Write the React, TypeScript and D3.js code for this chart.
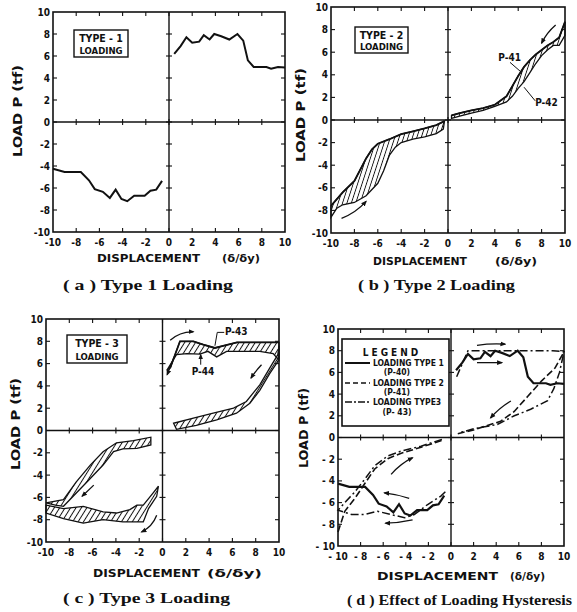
import React from "react";
import * as d3 from "d3";

type Pt = [number, number];

// axis ticks (same on both axes, all panels)
const ticks = [-10, -8, -6, -4, -2, 0, 2, 4, 6, 8, 10];

// (a) Type 1 loading, P-40 (also used in d)
const type1Pos: Pt[] = [[0.45, 6.2], [1.0, 6.9], [1.5, 7.7], [2.0, 7.2], [2.6, 7.3], [3.0, 7.9], [3.5, 7.5], [3.9, 8.0], [4.5, 7.8], [5.2, 7.5], [5.9, 8.0], [6.4, 7.4], [6.8, 5.6], [7.3, 5.0], [8.4, 5.0], [8.8, 4.85], [9.4, 5.0], [10, 4.95]];
const type1Neg: Pt[] = [[-10, -4.25], [-9, -4.55], [-7.6, -4.55], [-6.9, -5.3], [-6.4, -6.1], [-5.7, -6.35], [-5.1, -6.9], [-4.6, -6.15], [-4.1, -7.0], [-3.6, -7.2], [-3.0, -6.7], [-2.1, -6.7], [-1.6, -6.25], [-1.1, -6.15], [-0.6, -5.35]];

// (b) Type 2 loading, P-41 (upper edge) / P-42 (lower edge)
const p41Pos: Pt[] = [[0.3, 0.4], [1, 0.6], [2, 0.85], [3, 1.05], [4, 1.35], [5, 2.1], [5.5, 3.0], [6, 3.9], [6.5, 4.7], [7, 5.3], [7.5, 5.8], [8, 6.2], [8.5, 6.6], [9, 6.9], [9.5, 7.3], [10, 8.7]];
const p42Pos: Pt[] = [[0.3, 0.15], [1, 0.35], [2, 0.6], [3, 0.85], [4, 1.2], [5, 1.6], [5.5, 2.1], [6, 2.8], [6.5, 3.4], [7, 4.2], [7.5, 5.0], [8, 5.7], [8.5, 6.2], [9, 6.6], [9.5, 6.6], [10, 7.5]];
const p41Neg: Pt[] = [[-10, -7.6], [-9, -6.4], [-8, -5.4], [-7, -3.4], [-6.5, -2.6], [-6, -2.1], [-5, -1.7], [-4, -1.25], [-3, -1.0], [-2, -0.75], [-1, -0.45], [-0.3, -0.1]];
const p42Neg: Pt[] = [[-10, -8.6], [-9.5, -7.8], [-9, -7.5], [-8, -7.3], [-7, -6.7], [-6, -5.6], [-5.5, -4.5], [-5, -3.1], [-4.5, -2.4], [-4, -2.0], [-3, -1.7], [-2, -1.5], [-1, -1.2], [-0.4, -0.8]];

// (c) Type 3 loading, P-43 / P-44
const p43Top: Pt[] = [[0.66, 5.6], [1.5, 8.0], [2.65, 8.0], [3.5, 7.7], [4.5, 7.4], [5.2, 7.6], [6.4, 7.9], [10, 7.9]];
const p44Top: Pt[] = [[0.37, 5.4], [1.2, 6.8], [2.1, 6.9], [3.2, 6.85], [3.9, 7.1], [4.65, 6.6], [5.5, 7.1], [8.35, 7.1], [9.5, 6.9], [10, 6.3]];
const p43Rel: Pt[] = [[0.95, 0.65], [2.65, 1.1], [4.35, 1.55], [6.1, 2.0], [7.2, 2.6], [8.35, 4.1], [9.2, 5.6], [9.9, 6.8], [10, 7.6]];
const p44Rel: Pt[] = [[1.2, 0.1], [2.9, 0.45], [4.65, 0.95], [6.35, 1.55], [7.5, 2.45], [8.35, 3.6], [9.2, 5.1], [9.9, 6.2], [10, 6.5]];
const p43Unl: Pt[] = [[-10, -6.5], [-8.5, -6.2], [-7.4, -4.6], [-6.2, -3.1], [-5.1, -1.9], [-3.95, -1.1], [-2.5, -0.9], [-1.0, -0.6]];
const p44Unl: Pt[] = [[-9.2, -6.7], [-8.5, -6.8], [-7.4, -5.6], [-6.2, -4.3], [-5.1, -3.1], [-4.2, -1.9], [-3.4, -1.65], [-2.2, -1.6], [-1.0, -1.3]];
const p43Low: Pt[] = [[-10, -6.7], [-8.5, -7.0], [-6.8, -6.8], [-5.1, -7.3], [-3.95, -7.4], [-2.8, -7.1], [-2.2, -6.7], [-1.65, -6.7], [-0.8, -5.6], [-0.35, -5.0]];
const p44Low: Pt[] = [[-10, -7.4], [-8.5, -7.9], [-6.8, -8.3], [-5.1, -8.0], [-3.4, -8.2], [-1.65, -8.2], [-1.2, -7.0], [-0.5, -5.9], [-0.35, -5.0]];

// (d) comparison curves
const type2Pos: Pt[] = [[0.6, 0.35], [2, 0.7], [4.4, 1.5], [5.6, 2.4], [6.8, 3.8], [8, 5.2], [9.2, 6.4], [10, 7.9]];
const type2Neg: Pt[] = [[-10, -8.7], [-9.4, -6.8], [-8.5, -5.6], [-7.6, -4.2], [-6.75, -2.9], [-5.6, -1.95], [-4.4, -1.45], [-2.65, -0.9], [-0.6, -0.2]];
const type3Pos: Pt[] = [[0.5, 5.6], [1.5, 8.0], [3, 8.0], [5, 8.0], [7, 8.0], [9, 8.0], [10, 7.9], [9.6, 6.0], [9.1, 4.5], [8.55, 3.4], [7.05, 2.6], [5.6, 2.0], [4.1, 1.2], [2, 0.8], [0.85, 0.46]];
const type3Neg: Pt[] = [[-0.5, -5.0], [-0.9, -5.4], [-2.1, -6.2], [-3.25, -7.1], [-4.1, -7.4], [-5.3, -7.1], [-6.5, -6.8], [-7.65, -7.1], [-8.8, -7.1], [-10, -6.7], [-9.4, -6.0], [-8.5, -5.0], [-7.6, -3.8], [-6.75, -2.6], [-5.6, -1.7], [-4.4, -1.25], [-2.65, -0.8], [-0.6, -0.1]];

// direction arrows [from, to, bend]
const arrowsB: [Pt, Pt, number][] = [[[9.2, 8.4], [8.0, 6.8], 0.1], [[-9.1, -8.7], [-7.0, -7.2], 0.12]];
const arrowsC: [Pt, Pt, number][] = [[[0.66, 8.1], [2.65, 8.85], -0.2], [[8.5, 5.9], [7.6, 4.7], 0.05], [[1.0, 6.6], [0.4, 5.0], 0], [[-5.9, -4.9], [-6.9, -5.9], 0], [[-0.5, -7.6], [-1.8, -9.1], -0.2]];
const arrowsD: [Pt, Pt, number][] = [[[2.3, 8.5], [4.8, 8.6], -0.05], [[2.3, 6.9], [4.5, 6.9], 0], [[5.3, 3.36], [3.5, 1.8], 0.08], [[-5.3, -3.4], [-3.4, -1.86], -0.1], [[-3.7, -5.6], [-5.9, -5.1], 0.05], [[-3.4, -7.6], [-5.8, -7.9], -0.05]];

const tickFont = "'DejaVu Sans Condensed', 'DejaVu Sans', sans-serif";
const serif = "'Liberation Serif', 'DejaVu Serif', serif";

type Frame = { l: number; r: number; t: number; b: number };

function scales(f: Frame) {
  const x = d3.scaleLinear().domain([-10, 10]).range([f.l, f.r]);
  const y = d3.scaleLinear().domain([-10, 10]).range([f.b, f.t]);
  return { x, y };
}

function Axes({ f, minusSpace = false }: { f: Frame; minusSpace?: boolean }) {
  const { x, y } = scales(f);
  const x0 = x(0);
  const y0 = y(0);
  const inner = ticks.filter((t) => Math.abs(t) < 10);
  const fmt = (t: number) => (minusSpace && t < 0 ? `- ${-t}` : `${t}`);
  return (
    <g>
      <rect x={f.l} y={f.t} width={f.r - f.l} height={f.b - f.t} fill="none" stroke="#111" strokeWidth={1.6} />
      <line x1={x0} x2={x0} y1={f.t} y2={f.b} stroke="#111" strokeWidth={1.4} />
      <line x1={f.l} x2={f.r} y1={y0} y2={y0} stroke="#111" strokeWidth={1.4} />
      {inner.map((t) => (
        <g key={t} stroke="#111" strokeWidth={1.1}>
          <line x1={f.l} x2={f.l + 4} y1={y(t)} y2={y(t)} />
          <line x1={f.r - 4} x2={f.r} y1={y(t)} y2={y(t)} />
          <line x1={x0 - 3} x2={x0 + 3} y1={y(t)} y2={y(t)} />
          <line x1={x(t)} x2={x(t)} y1={f.t} y2={f.t + 4} />
          <line x1={x(t)} x2={x(t)} y1={f.b - 4} y2={f.b} />
          <line x1={x(t)} x2={x(t)} y1={y0 - 3} y2={y0 + 3} />
        </g>
      ))}
      {ticks.map((t) => (
        <text key={"y" + t} x={f.l - 3} y={y(t) + 3.5} textAnchor="end" fontFamily={tickFont} fontWeight="bold" fontSize={10} fill="#111">
          {fmt(t)}
        </text>
      ))}
      {ticks.map((t) => (
        <text key={"x" + t} x={x(t)} y={f.b + 14} textAnchor="middle" fontFamily={tickFont} fontWeight="bold" fontSize={10} fill="#111">
          {fmt(t)}
        </text>
      ))}
    </g>
  );
}

function Titles({ disp, dd, load, cap, capText }: { disp: number[]; dd: number[]; load: number[]; cap: number[]; capText: string }) {
  return (
    <g fill="#111">
      <text x={disp[0]} y={disp[2]} textLength={disp[1]} lengthAdjust="spacingAndGlyphs" fontFamily={tickFont} fontWeight="bold" fontSize={11}>
        DISPLACEMENT
      </text>
      <text x={dd[0]} y={disp[2]} textLength={dd[1]} lengthAdjust="spacingAndGlyphs" fontFamily={tickFont} fontWeight="bold" fontSize={10}>
        (δ/δy)
      </text>
      <text transform={`translate(${load[0]},${load[1]}) rotate(-90)`} textAnchor="middle" textLength={load[2]} lengthAdjust="spacingAndGlyphs" fontFamily={tickFont} fontWeight="bold" fontSize={12}>
        LOAD  P  (tf)
      </text>
      <text x={cap[0]} y={cap[2]} textLength={cap[1]} lengthAdjust="spacingAndGlyphs" fontFamily={serif} fontWeight="bold" fontSize={14}>
        {capText}
      </text>
    </g>
  );
}

function TypeBox({ x, y, w, h, n }: { x: number; y: number; w: number; h: number; n: number }) {
  return (
    <g fill="#111" fontFamily={tickFont} fontWeight="bold">
      <rect x={x} y={y} width={w} height={h} fill="white" stroke="#111" strokeWidth={1.4} />
      <text x={x + w / 2} y={y + 12} textAnchor="middle" fontSize={10.5}>{`TYPE - ${n}`}</text>
      <text x={x + w / 2} y={y + h - 3.5} textAnchor="middle" fontSize={9.5}>LOADING</text>
    </g>
  );
}

function bandPath(f: Frame, upper: Pt[], lower: Pt[]) {
  const { x, y } = scales(f);
  const line = d3.line<Pt>().x((d) => x(d[0])).y((d) => y(d[1]));
  return line([...upper, ...lower.slice().reverse()]) + "Z";
}

function curve(f: Frame, pts: Pt[]) {
  const { x, y } = scales(f);
  return d3.line<Pt>().x((d) => x(d[0])).y((d) => y(d[1]))(pts) || "";
}

function Arrows({ f, list }: { f: Frame; list: [Pt, Pt, number][] }) {
  const { x, y } = scales(f);
  return (
    <g>
      {list.map(([a, b, bend], i) => {
        const x1 = x(a[0]), y1 = y(a[1]), x2 = x(b[0]), y2 = y(b[1]);
        const cx = (x1 + x2) / 2 - (y2 - y1) * bend;
        const cy = (y1 + y2) / 2 + (x2 - x1) * bend;
        return <path key={i} d={`M${x1},${y1}Q${cx},${cy} ${x2},${y2}`} fill="none" stroke="#111" strokeWidth={1.3} markerEnd="url(#arr)" />;
      })}
    </g>
  );
}

const fA: Frame = { l: 53, r: 285, t: 12, b: 232 };
const fB: Frame = { l: 331, r: 565, t: 7, b: 233 };
const fC: Frame = { l: 46, r: 279, t: 319, b: 542 };
const fD: Frame = { l: 338, r: 564, t: 329, b: 546 };

export default function App() {
  const bx = scales(fB);
  const cx = scales(fC);
  const lbl = { fontFamily: tickFont, fontWeight: "bold" as const, fontSize: 10, fill: "#111" };
  return (
    <svg width={577} height={612} style={{ position: "absolute", left: 0, top: 0, background: "white" }}>
      <defs>
        <pattern id="hatchB" width={4.2} height={4.2} patternUnits="userSpaceOnUse" patternTransform="rotate(18)">
          <line x1={2.1} y1={0} x2={2.1} y2={4.2} stroke="#111" strokeWidth={0.9} />
        </pattern>
        <pattern id="hatchC" width={4.6} height={4.6} patternUnits="userSpaceOnUse" patternTransform="rotate(32)">
          <line x1={2.3} y1={0} x2={2.3} y2={4.6} stroke="#111" strokeWidth={1} />
        </pattern>
        <marker id="arr" viewBox="0 0 10 10" refX={8} refY={5} markerWidth={6} markerHeight={6} orient="auto" markerUnits="userSpaceOnUse">
          <path d="M0,1 L10,5 L0,9 z" fill="#111" />
        </marker>
      </defs>

      {/* (a) */}
      <Axes f={fA} />
      <TypeBox x={74} y={30} w={54} h={27} n={1} />
      <path d={curve(fA, type1Pos)} fill="none" stroke="#111" strokeWidth={2} />
      <path d={curve(fA, type1Neg)} fill="none" stroke="#111" strokeWidth={2} />
      <Titles disp={[97, 103, 262]} dd={[222, 38]} load={[22, 111, 92]} cap={[63, 170, 290]} capText="( a )   Type 1  Loading" />

      {/* (b) */}
      <Axes f={fB} />
      <TypeBox x={355} y={27} w={53} h={26} n={2} />
      <path d={bandPath(fB, p41Pos, p42Pos)} fill="url(#hatchB)" stroke="#111" strokeWidth={1.3} />
      <path d={bandPath(fB, p41Neg, p42Neg)} fill="url(#hatchB)" stroke="#111" strokeWidth={1.3} />
      <path d={curve(fB, p41Pos)} fill="none" stroke="#111" strokeWidth={1.8} />
      <path d={curve(fB, p41Neg)} fill="none" stroke="#111" strokeWidth={1.8} />
      <Arrows f={fB} list={arrowsB} />
      <text x={bx.x(4.3)} y={bx.y(5.25)} {...lbl}>P-41</text>
      <line x1={bx.x(5.3)} y1={bx.y(5.1)} x2={bx.x(6.3)} y2={bx.y(4.2)} stroke="#111" strokeWidth={1} />
      <text x={bx.x(7.45)} y={bx.y(1.25)} {...lbl}>P-42</text>
      <line x1={bx.x(6.5)} y1={bx.y(2.9)} x2={bx.x(7.45)} y2={bx.y(1.7)} stroke="#111" strokeWidth={1} />
      <Titles disp={[373, 94, 265]} dd={[495, 42]} load={[305, 115, 94]} cap={[358, 157, 290]} capText="( b )   Type 2  Loading" />

      {/* (c) */}
      <Axes f={fC} />
      <TypeBox x={67} y={335} w={60} h={28} n={3} />
      <path d={bandPath(fC, p43Top, p44Top)} fill="url(#hatchC)" stroke="#111" strokeWidth={1.3} />
      <path d={bandPath(fC, p43Rel, p44Rel)} fill="url(#hatchC)" stroke="#111" strokeWidth={1.3} />
      <path d={bandPath(fC, p43Unl, p44Unl)} fill="url(#hatchC)" stroke="#111" strokeWidth={1.3} />
      <path d={bandPath(fC, p43Low, p44Low)} fill="url(#hatchC)" stroke="#111" strokeWidth={1.3} />
      <path d={curve(fC, p43Top)} fill="none" stroke="#111" strokeWidth={1.8} />
      <Arrows f={fC} list={arrowsC} />
      <text x={cx.x(5.36)} y={cx.y(8.57)} {...lbl}>P-43</text>
      <path d={`M${cx.x(5.3)},${cx.y(8.8)}H${cx.x(4.7)}L${cx.x(4.5)},${cx.y(7.6)}`} fill="none" stroke="#111" strokeWidth={1} />
      <text x={cx.x(2.5)} y={cx.y(5.0)} {...lbl}>P-44</text>
      <line x1={cx.x(3.28)} y1={cx.y(5.9)} x2={cx.x(3.28)} y2={cx.y(6.8)} stroke="#111" strokeWidth={1} markerEnd="url(#arr)" />
      <Titles disp={[93, 107, 577]} dd={[207, 55]} load={[20, 424, 92]} cap={[63, 167, 603]} capText="( c )   Type 3  Loading" />

      {/* (d) */}
      <Axes f={fD} minusSpace />
      <path d={curve(fD, type2Pos)} fill="none" stroke="#111" strokeWidth={1.6} strokeDasharray="7,3" />
      <path d={curve(fD, type2Neg)} fill="none" stroke="#111" strokeWidth={1.6} strokeDasharray="7,3" />
      <path d={curve(fD, type3Pos)} fill="none" stroke="#111" strokeWidth={1.5} strokeDasharray="8,3,2,3" />
      <path d={curve(fD, type3Neg)} fill="none" stroke="#111" strokeWidth={1.5} strokeDasharray="8,3,2,3" />
      <path d={curve(fD, type1Pos)} fill="none" stroke="#111" strokeWidth={2.2} />
      <path d={curve(fD, type1Neg)} fill="none" stroke="#111" strokeWidth={2.2} />
      <Arrows f={fD} list={arrowsD} />
      <g fontFamily={tickFont} fontWeight="bold" fill="#111">
        <rect x={342} y={339} width={107} height={87} fill="white" stroke="#111" strokeWidth={1.6} />
        <text x={392} y={356} textAnchor="middle" fontSize={10} letterSpacing={3}>LEGEND</text>
        <line x1={345} x2={370} y1={363} y2={363} stroke="#111" strokeWidth={2} />
        <text x={373} y={366} fontSize={8.5}>LOADING TYPE 1</text>
        <text x={397} y={375} textAnchor="middle" fontSize={8.5}>(P-40)</text>
        <line x1={345} x2={370} y1={383} y2={383} stroke="#111" strokeWidth={1.3} strokeDasharray="5,3" />
        <text x={373} y={386} fontSize={8.5}>LOADING TYPE 2</text>
        <text x={397} y={395} textAnchor="middle" fontSize={8.5}>(P-41)</text>
        <line x1={345} x2={370} y1={402} y2={402} stroke="#111" strokeWidth={1.3} strokeDasharray="7,2,2,2" />
        <text x={373} y={405} fontSize={8.5}>LOADING TYPE3</text>
        <text x={397} y={415} textAnchor="middle" fontSize={8.5}>(P- 43)</text>
      </g>
      <Titles disp={[377, 121, 580]} dd={[510, 35]} load={[308, 428, 80]} cap={[347, 225, 605]} capText="( d )   Effect of Loading Hysteresis" />
    </svg>
  );
}
